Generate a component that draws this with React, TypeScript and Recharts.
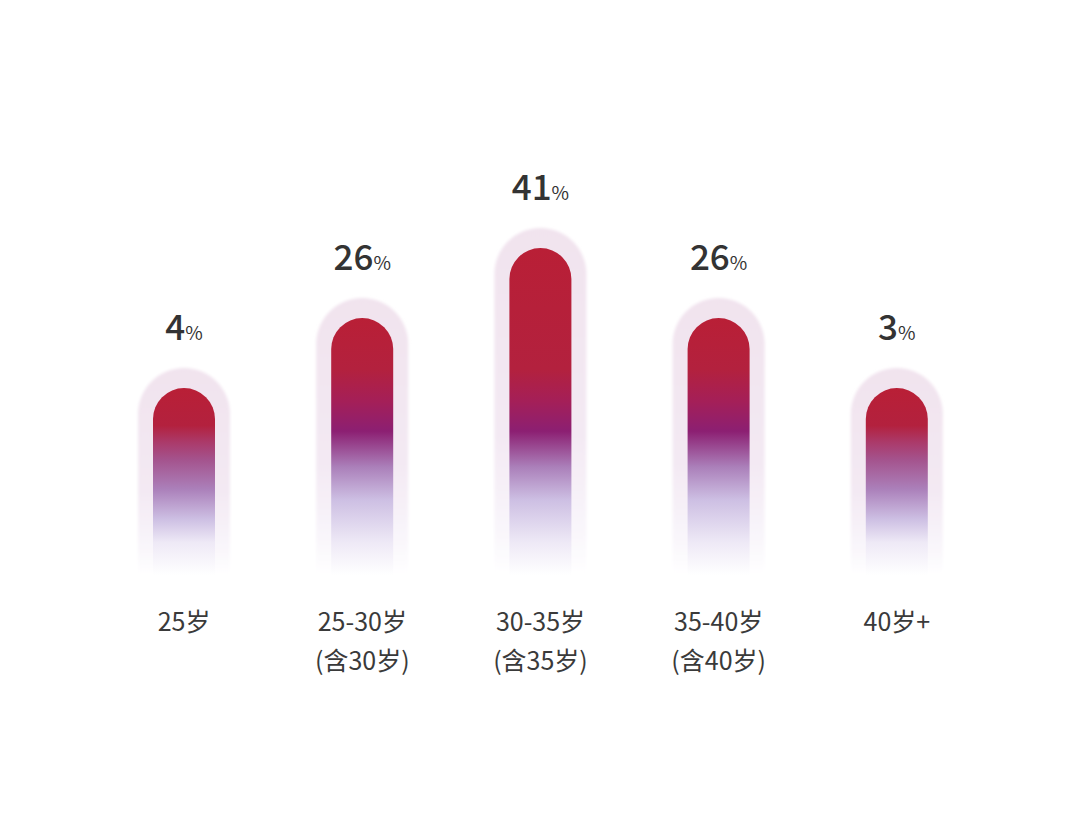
import { Bar, BarChart, LabelList, XAxis, YAxis } from 'recharts'

const ageGroups = ['25岁', '25-30岁', '30-35岁', '35-40岁', '40岁+']
const ageNotes = ['', '(含30岁)', '(含35岁)', '(含40岁)', '']
const shares = [4, 26, 41, 26, 3]
// the original draws bars by rank, not in proportion to the share
const barLevel = [2.67, 3.67, 4.67, 3.67, 2.67]

const data = ageGroups.map((group, i) => ({
  group,
  note: ageNotes[i],
  share: shares[i],
  level: barLevel[i],
}))
const maxLevel = Math.max(...barLevel)

const FONT = '"Noto Sans CJK SC", "Noto Sans", sans-serif'

function topRounded(x: number, y: number, w: number, h: number) {
  const r = w / 2
  return `M${x},${y + h} L${x},${y + r} A${r},${r} 0 0 1 ${x + w},${y + r} L${x + w},${y + h} Z`
}

function PillBar(props: any) {
  const { x, y, width, height, index, payload } = props
  const bottom = y + height
  const full = (height / payload.level) * maxLevel
  const top = bottom - full
  // colour bands sit at fixed heights of the tallest column, pushed down on short bars
  const redEnd = Math.max(y + 0.2 * height, top + 0.37 * full)
  const purpleY = Math.max(y + 0.38 * height, top + 0.56 * full)
  const pushed = purpleY > top + 0.56 * full + 1
  const off = (v: number) => Math.min(1, Math.max(0, (v - y) / height))
  const pad = 15
  const haloTop = y - 20
  const gi = `inner-${index}`
  const gh = `halo-${index}`
  return (
    <g>
      <defs>
        <linearGradient id={gi} gradientUnits="userSpaceOnUse" x1={0} y1={y} x2={0} y2={bottom}>
          <stop offset="0" stopColor="#b91f36" />
          <stop offset={off(redEnd)} stopColor="#b3213e" />
          <stop offset={off((redEnd + purpleY) / 2)} stopColor={pushed ? '#ab3a6a' : '#a51f57'} />
          <stop offset={off(purpleY)} stopColor={pushed ? '#a4528c' : '#8c1f72'} />
          <stop offset={off(Math.max(purpleY + 30, top + 0.67 * full))} stopColor="#ab80ba" />
          <stop offset={off(Math.max(purpleY + 60, top + 0.77 * full))} stopColor="#cdbfe3" />
          <stop offset={off(top + 0.9 * full)} stopColor="#eee9f6" />
          <stop offset="1" stopColor="#ffffff" />
        </linearGradient>
        <linearGradient id={gh} gradientUnits="userSpaceOnUse" x1={0} y1={haloTop} x2={0} y2={bottom}>
          <stop offset="0" stopColor="#f1e3ee" />
          <stop offset="0.6" stopColor="#f3e9f3" />
          <stop offset="0.87" stopColor="#f9f6fb" />
          <stop offset="1" stopColor="#ffffff" />
        </linearGradient>
        <filter id="haloBlur" x="-20%" y="-20%" width="140%" height="140%">
          <feGaussianBlur stdDeviation="1.5" />
        </filter>
      </defs>
      <path
        d={topRounded(x - pad, haloTop, width + pad * 2, bottom - haloTop)}
        fill={`url(#${gh})`}
        filter="url(#haloBlur)"
      />
      <path d={topRounded(x, y, width, height)} fill={`url(#${gi})`} />
    </g>
  )
}

function ShareLabel(props: any) {
  const { x, y, width, value } = props
  return (
    <text x={x + width / 2} y={y - 48} textAnchor="middle" fill="#333333" fontFamily={FONT}>
      <tspan fontSize={35} fontWeight={500}>{value}</tspan>
      <tspan fontSize={19}>%</tspan>
    </text>
  )
}

function AgeTick(props: any) {
  const { x, y, payload } = props
  const note = ageNotes[payload.index]
  return (
    <g fontFamily={FONT} fontSize={25} fill="#3a3a3a">
      <text x={x} y={y + 48} textAnchor="middle">{payload.value}</text>
      {note ? <text x={x} y={y + 87} textAnchor="middle">{note}</text> : null}
    </g>
  )
}

export default function App() {
  return (
    <div style={{ position: 'absolute', left: 0, top: 0, width: 1080, height: 829, background: '#ffffff' }}>
      <BarChart width={1080} height={829} data={data} margin={{ top: 155, right: 94, left: 95, bottom: 0 }}>
        <XAxis dataKey="group" height={254} axisLine={false} tickLine={false} tick={<AgeTick />} interval={0} />
        <YAxis hide domain={[0, 6]} />
        <Bar dataKey="level" barSize={62} shape={<PillBar />} isAnimationActive={false}>
          <LabelList dataKey="share" content={<ShareLabel />} />
        </Bar>
      </BarChart>
    </div>
  )
}
